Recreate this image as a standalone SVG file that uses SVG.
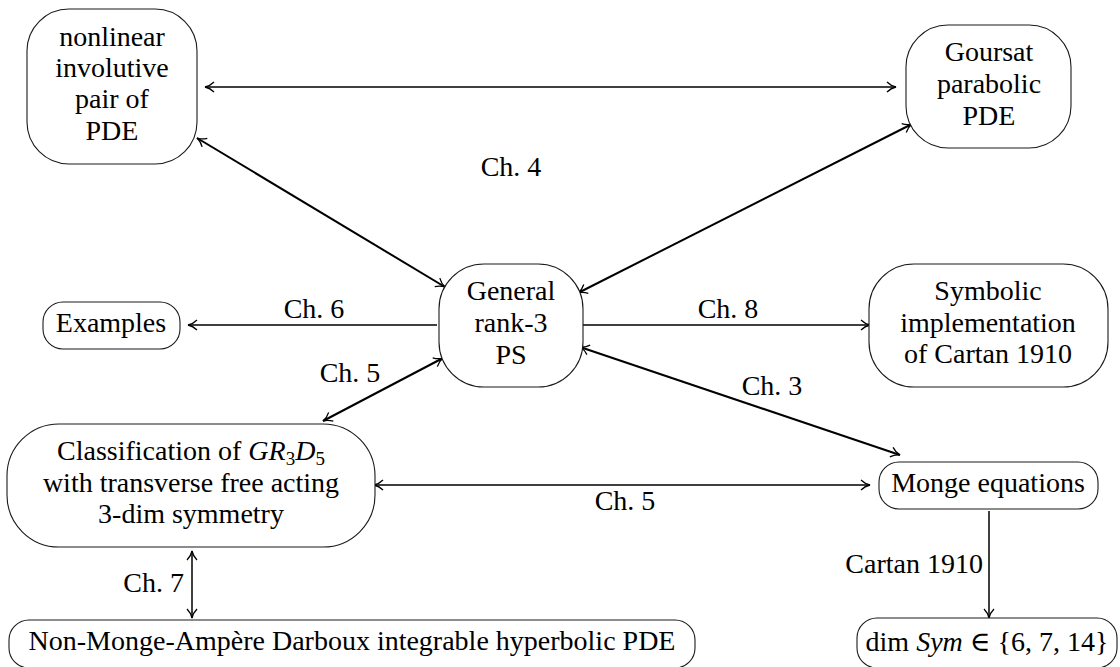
<svg xmlns="http://www.w3.org/2000/svg" width="1120" height="667" viewBox="0 0 1120 667" font-family="Liberation Serif, DejaVu Serif, serif" font-size="28">
<style>
.box{fill:#fff;stroke:#1a1a1a;stroke-width:1.1}
.t{text-anchor:middle}
.e{fill:none;stroke:#000;stroke-width:1.5}
.d{fill:none;stroke:#000;stroke-width:2}
.i{font-style:italic}
</style>
<defs>
<marker id="ah" viewBox="-11 -6 12 12" markerWidth="12" markerHeight="12" refX="0" refY="0" orient="auto-start-reverse" markerUnits="userSpaceOnUse">
<path d="M-9,-5 C-6,-2 -2,-0.4 0,0 C-2,0.4 -6,2 -9,5" fill="none" stroke="#000" stroke-width="1.3"/>
</marker>
</defs>
<g id="connectors">
<line class="e" x1="205" y1="87" x2="896" y2="87" marker-start="url(#ah)" marker-end="url(#ah)"/>
<line class="d" x1="197" y1="138" x2="445" y2="287" marker-start="url(#ah)" marker-end="url(#ah)"/>
<line class="d" x1="912" y1="124" x2="578" y2="293" marker-start="url(#ah)" marker-end="url(#ah)"/>
<line class="e" x1="437" y1="325" x2="188" y2="325" marker-end="url(#ah)"/>
<line class="e" x1="583" y1="325" x2="870" y2="325" marker-end="url(#ah)"/>
<line class="d" x1="443" y1="358" x2="323" y2="421" marker-start="url(#ah)" marker-end="url(#ah)"/>
<line class="d" x1="580" y1="347" x2="900" y2="455" marker-start="url(#ah)" marker-end="url(#ah)"/>
<line class="e" x1="374" y1="485" x2="870" y2="485" marker-start="url(#ah)" marker-end="url(#ah)"/>
<line class="e" x1="192" y1="551" x2="192" y2="618" marker-start="url(#ah)" marker-end="url(#ah)"/>
<line class="e" x1="989" y1="511" x2="989" y2="618" marker-end="url(#ah)"/>
<text class="t" x="511" y="176">Ch. 4</text>
<text class="t" x="314" y="318">Ch. 6</text>
<text class="t" x="728" y="318">Ch. 8</text>
<text class="t" x="350" y="382">Ch. 5</text>
<text class="t" x="772" y="395">Ch. 3</text>
<text class="t" x="625" y="510">Ch. 5</text>
<text x="184" y="592" text-anchor="end">Ch. 7</text>
<text x="983" y="573" text-anchor="end">Cartan 1910</text>
</g>
<g id="nonlinear">
<rect class="box" x="27" y="9" width="170" height="155" rx="42"/>
<text class="t" x="112" y="46">nonlinear</text>
<text class="t" x="112" y="77">involutive</text>
<text class="t" x="112" y="108">pair of</text>
<text class="t" x="112" y="140">PDE</text>
</g>
<g id="goursat">
<rect class="box" x="906" y="25" width="165" height="123" rx="42"/>
<text class="t" x="989" y="61">Goursat</text>
<text class="t" x="989" y="93">parabolic</text>
<text class="t" x="989" y="125">PDE</text>
</g>
<g id="general">
<rect class="box" x="439" y="264" width="144" height="123" rx="45"/>
<text class="t" x="511" y="300">General</text>
<text class="t" x="511" y="332">rank-3</text>
<text class="t" x="511" y="364">PS</text>
</g>
<g id="examples">
<rect class="box" x="43" y="302" width="137" height="47" rx="20"/>
<text class="t" x="111" y="332">Examples</text>
</g>
<g id="symbolic">
<rect class="box" x="869" y="264" width="239" height="123" rx="45"/>
<text class="t" x="988" y="300">Symbolic</text>
<text class="t" x="988" y="332">implementation</text>
<text class="t" x="988" y="363">of Cartan 1910</text>
</g>
<g id="classification">
<rect class="box" x="7" y="424" width="368" height="123" rx="52"/>
<text class="t" x="191" y="460">Classification of <tspan class="i">GR</tspan><tspan font-size="19" dy="5">3</tspan><tspan class="i" dy="-5">D</tspan><tspan font-size="19" dy="5">5</tspan></text>
<text class="t" x="191" y="492">with transverse free acting</text>
<text class="t" x="191" y="523">3-dim symmetry</text>
</g>
<g id="monge">
<rect class="box" x="879" y="462" width="219" height="47" rx="20"/>
<text class="t" x="988" y="492">Monge equations</text>
</g>
<g id="nonmonge">
<rect class="box" x="9" y="620" width="686" height="48" rx="20"/>
<text class="t" x="352" y="650">Non-Monge-Ampère Darboux integrable hyperbolic PDE</text>
</g>
<g id="dimsym">
<rect class="box" x="857" y="618" width="260" height="50" rx="20"/>
<text class="t" x="987" y="651">dim <tspan class="i">Sym</tspan> ∈ {6, 7, 14}</text>
</g>
</svg>
